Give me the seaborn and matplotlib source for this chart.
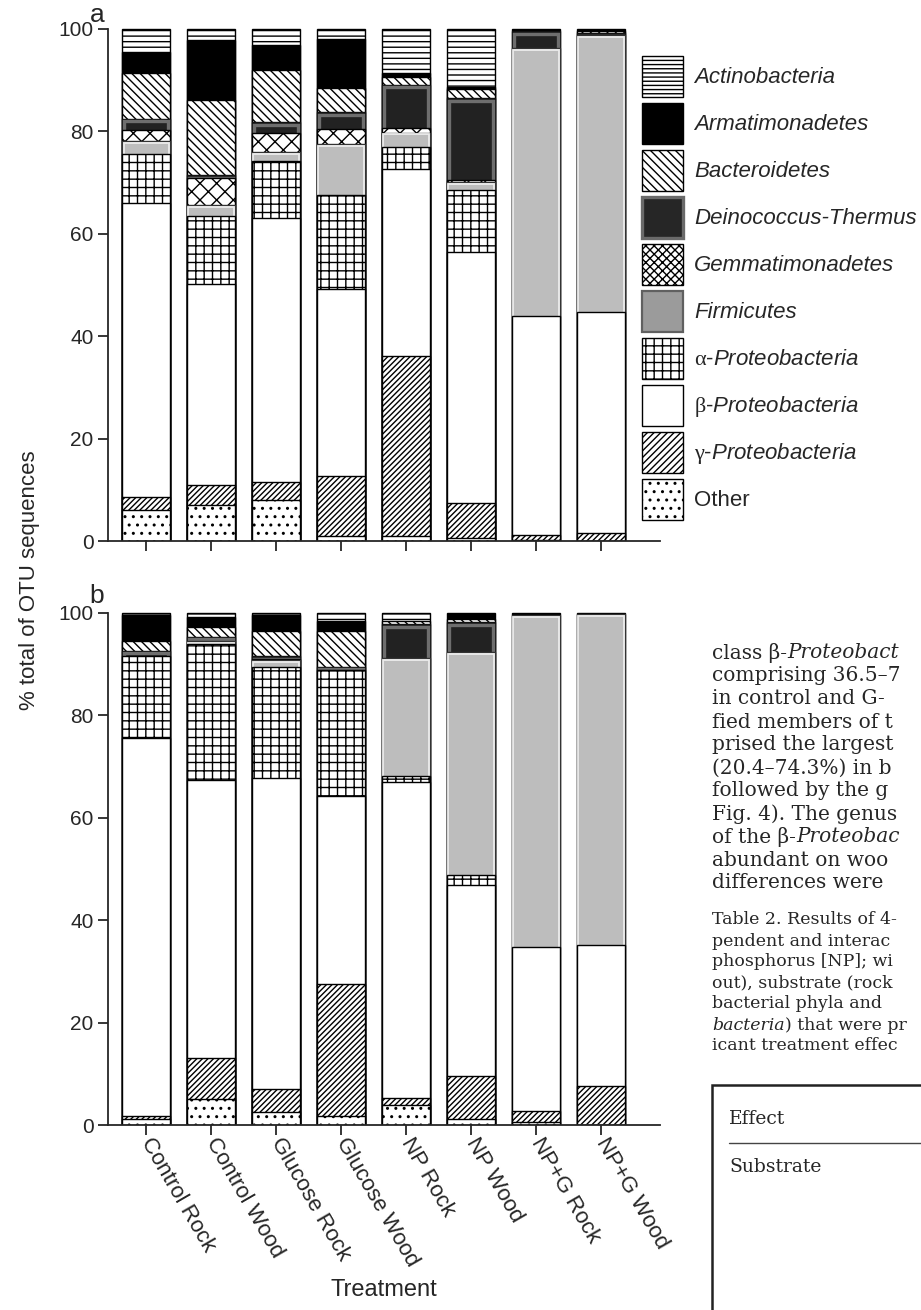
import numpy as np
import matplotlib
matplotlib.use("Agg")
import matplotlib.pyplot as plt
import seaborn as sns
from matplotlib.patches import Patch, Rectangle
from matplotlib.lines import Line2D

sns.set_style("ticks")
plt.rcParams['font.family'] = ['Liberation Sans', 'DejaVu Sans']
plt.rcParams['hatch.linewidth'] = 1.0
plt.rcParams['mathtext.fontset'] = 'custom'
plt.rcParams['mathtext.rm'] = 'Liberation Serif'
plt.rcParams['mathtext.it'] = 'Liberation Sans:italic'

treatments = ["Control Rock", "Control Wood", "Glucose Rock", "Glucose Wood",
              "NP Rock", "NP Wood", "NP+G Rock", "NP+G Wood"]

# stacking order, bottom -> top
phyla = ["Other", "gamma", "beta", "alpha", "Firmicutes", "Gemmatimonadetes",
         "Deinococcus-Thermus", "Bacteroidetes", "Armatimonadetes", "Actinobacteria"]

# panel a (% of OTU sequences)
other_a = [6.0, 7.0, 8.1, 1.0, 1.0, 0.5, 0.2, 0.1]
gamma_a = [2.5, 4.0, 3.5, 11.6, 35.2, 7.0, 1.0, 1.5]
beta_a = [57.5, 39.2, 51.4, 36.5, 36.4, 49.0, 42.7, 43.2]
alpha_a = [9.6, 13.3, 11.2, 18.5, 4.4, 12.0, 0, 0]
firm_a = [2.4, 2.1, 1.7, 9.8, 2.7, 1.6, 52.3, 53.9]
gemm_a = [2.3, 5.3, 3.8, 3.0, 0.9, 0.3, 0, 0]
dein_a = [2.1, 0.5, 2.0, 3.3, 8.5, 16.0, 3.3, 0.4]
bact_a = [9.0, 14.7, 10.2, 4.8, 1.5, 1.8, 0, 0.4]
arma_a = [4.0, 11.6, 5.0, 9.5, 0.8, 0.5, 0.5, 0]
actino_a = [4.6, 2.3, 3.1, 2.0, 8.6, 11.3, 0, 0.5]

# panel b
other_b = [1.2, 5.0, 2.5, 1.8, 4.0, 1.2, 0.5, 0.1]
gamma_b = [0.6, 8.0, 4.5, 25.7, 1.3, 8.3, 2.2, 7.6]
beta_b = [73.7, 54.4, 60.8, 36.7, 61.7, 37.4, 32.1, 27.5]
alpha_b = [16.0, 26.4, 21.6, 24.6, 1.2, 1.9, 0, 0]
firm_b = [0, 0.6, 1.3, 0, 23.0, 43.5, 64.8, 64.5]
gemm_b = [0, 0, 0.3, 0, 0, 0, 0, 0]
dein_b = [1.1, 0.9, 0.5, 0.6, 6.5, 5.8, 0, 0]
bact_b = [1.8, 2.0, 5.0, 7.1, 0.7, 0.7, 0, 0]
arma_b = [5.1, 1.9, 3.0, 1.8, 0, 1.2, 0.4, 0.3]
actino_b = [0.5, 0.8, 0.5, 1.7, 1.6, 0, 0, 0]

layers_a = [other_a, gamma_a, beta_a, alpha_a, firm_a, gemm_a, dein_a, bact_a, arma_a, actino_a]
layers_b = [other_b, gamma_b, beta_b, alpha_b, firm_b, gemm_b, dein_b, bact_b, arma_b, actino_b]

BAR_W = 0.75
styles = {
    "Other": dict(fc="white", ec="black", lw=1.0, hatch=".."),
    "gamma": dict(fc="white", ec="black", lw=1.0, hatch="//////"),
    "beta": dict(fc="white", ec="black", lw=1.0, hatch=None),
    "alpha": dict(fc="white", ec="black", lw=1.0, hatch="++"),
    # inner = (edge colour, linewidth, inset in x units, inset in y units)
    "Firmicutes": dict(fc="#bdbdbd", ec="#333333", lw=1.0, hatch=None,
                       inner=("#ececec", 1.3, 0.028, 0.35)),
    "Gemmatimonadetes": dict(fc="white", ec="black", lw=1.0, hatch="xx"),
    "Deinococcus-Thermus": dict(fc="#222222", ec="#111111", lw=1.0, hatch=None,
                                inner=("#6e6e6e", 2.4, 0.035, 0.45)),
    "Bacteroidetes": dict(fc="white", ec="black", lw=1.0, hatch="\\\\\\\\"),
    "Armatimonadetes": dict(fc="black", ec="black", lw=1.0, hatch=None),
    "Actinobacteria": dict(fc="white", ec="black", lw=1.0, hatch="---"),
}


def bar_layer(ax, top, vals, fc, ec, lw, hatch, width=BAR_W):
    n0 = len(ax.patches)
    sns.barplot(x=treatments, y=top, order=treatments, color=fc,
                saturation=1, edgecolor=ec, linewidth=lw,
                hatch=hatch, width=width, errorbar=None, ax=ax)
    for p, v in zip(ax.patches[n0:], vals):
        if v <= 0:
            p.set_visible(False)


def draw_panel(ax, layers):
    cum = np.zeros(len(treatments))
    tops = []
    for vals in layers:
        cum = cum + np.array(vals, dtype=float)
        tops.append(cum.copy())
    # paint cumulative bars from the top layer down
    for name, vals, top in reversed(list(zip(phyla, layers, tops))):
        st = styles[name]
        bar_layer(ax, top, vals, st["fc"], st["ec"], st["lw"], st["hatch"])
        if "inner" in st:
            iec, ilw, dx, dy = st["inner"]
            bar_layer(ax, top - dy, vals, st["fc"], iec, ilw, None, width=BAR_W - 2 * dx)
    ax.set_xlim(-0.585, 7.908)
    ax.set_ylim(0, 101)
    ax.set_yticks(range(0, 101, 20))
    sns.despine(ax=ax)
    ax.spines["left"].set_bounds(0, 100)
    for s in ["left", "bottom"]:
        ax.spines[s].set_linewidth(1.3)
    ax.tick_params(axis="both", length=7, width=1.3, labelsize=15)
    ax.set_xlabel("")
    ax.set_ylabel("")


fig = plt.figure(figsize=(9.21, 13.10), dpi=100)
ax_a = fig.add_axes([0.1173, 0.587, 0.5993, 0.395])
ax_b = fig.add_axes([0.1173, 0.1412, 0.5993, 0.395])

draw_panel(ax_a, layers_a)
draw_panel(ax_b, layers_b)

ax_a.set_xticks(range(len(treatments)))
ax_a.set_xticklabels([])
ax_b.set_xticks(range(len(treatments)))
ax_b.set_xticklabels(treatments, rotation=-60, rotation_mode="anchor",
                     ha="left", va="center", fontsize=16)

fig.text(97 / 921, 1 - 15 / 1310, "a", fontsize=19, ha="center", va="center")
fig.text(97 / 921, 1 - 596 / 1310, "b", fontsize=19, ha="center", va="center")
fig.text(30 / 921, 1 - 580 / 1310, "% total of OTU sequences", rotation=90,
         fontsize=16, ha="center", va="center")
fig.text(384 / 921, 1 - 1290 / 1310, "Treatment", fontsize=17,
         ha="center", va="center")

# legend
leg_order = ["Actinobacteria", "Armatimonadetes", "Bacteroidetes", "Deinococcus-Thermus",
             "Gemmatimonadetes", "Firmicutes", "alpha", "beta", "gamma", "Other"]
leg_labels = ["Actinobacteria", "Armatimonadetes", "Bacteroidetes", "Deinococcus-Thermus",
              "Gemmatimonadetes", "Firmicutes",
              r"$\mathrm{\alpha}$-$\mathit{Proteobacteria}$",
              r"$\mathrm{\beta}$-$\mathit{Proteobacteria}$",
              r"$\mathrm{\gamma}$-$\mathit{Proteobacteria}$",
              "Other"]
leg_hatch = {"Actinobacteria": "----", "Gemmatimonadetes": "xxxx", "gamma": "/////"}
handles = []
for name in leg_order:
    st = styles[name]
    fc, ec, lw = st["fc"], st["ec"], 1.0
    if name == "Firmicutes":
        fc, ec, lw = "#9b9b9b", "#606060", 1.6
    if name == "Deinococcus-Thermus":
        fc, ec, lw = "#262626", "#6a6a6a", 2.4
    handles.append(Patch(facecolor=fc, edgecolor=ec, linewidth=lw,
                         hatch=leg_hatch.get(name, st["hatch"])))
leg = fig.legend(handles, leg_labels, loc="upper left",
                 bbox_to_anchor=(642 / 921, 1 - 56 / 1310), frameon=False,
                 borderpad=0, borderaxespad=0, fontsize=16,
                 handlelength=1.85, handleheight=2.46, labelspacing=0.27,
                 handletextpad=0.5)
for t, name in zip(leg.get_texts(), leg_order):
    if name in phyla[4:]:
        t.set_style("italic")

# page text on the right
serif = "DejaVu Serif"
body = [("class β-", "Proteobact"), ("comprising 36.5–7", ""), ("in control and G-", ""),
        ("fied members of t", ""), ("prised the largest", ""), ("(20.4–74.3%) in b", ""),
        ("followed by the g", ""), ("Fig. 4). The genus", ""), ("of the β-", "Proteobac"),
        ("abundant on woo", ""), ("differences were", "")]
caption = [("Table 2. Results of 4-", "", False), ("pendent and interac", "", False),
           ("phosphorus [NP]; wi", "", False), ("out), substrate (rock", "", False),
           ("bacterial phyla and", "", False), ("bacteria", ") that were pr", True),
           ("icant treatment effec", "", False)]

fig.canvas.draw()
renderer = fig.canvas.get_renderer()


def put_line(y_px, first, second, size, first_italic=False):
    t1 = fig.text(712 / 921, 1 - y_px / 1310, first, fontfamily=serif, fontsize=size,
                  va="center", ha="left", style="italic" if first_italic else "normal")
    if second:
        x1 = t1.get_window_extent(renderer).x1 / fig.bbox.width
        fig.text(x1, 1 - y_px / 1310, second, fontfamily=serif, fontsize=size,
                 va="center", ha="left", style="normal" if first_italic else "italic")


for i, (a, b) in enumerate(body):
    put_line(653 + 23 * i, a, b, 14.5)
for i, (a, b, it) in enumerate(caption):
    put_line(920 + 21 * i, a, b, 12.5, first_italic=it)

fig.add_artist(Rectangle((712 / 921, -0.1), 0.5, (1 - 1085 / 1310) + 0.1,
                         transform=fig.transFigure, fill=False, lw=1.8, edgecolor="#222222"))
fig.add_artist(Line2D([729 / 921, 1.0], [1 - 1143 / 1310] * 2,
                      transform=fig.transFigure, lw=1.0, color="#444444"))
fig.text(729 / 921, 1 - 1119 / 1310, "Effect", fontfamily=serif, fontsize=13.5,
         va="center", ha="left")
fig.text(729 / 921, 1 - 1167 / 1310, "Substrate", fontfamily=serif, fontsize=13.5,
         va="center", ha="left")

fig.savefig("out.png", dpi=100)
